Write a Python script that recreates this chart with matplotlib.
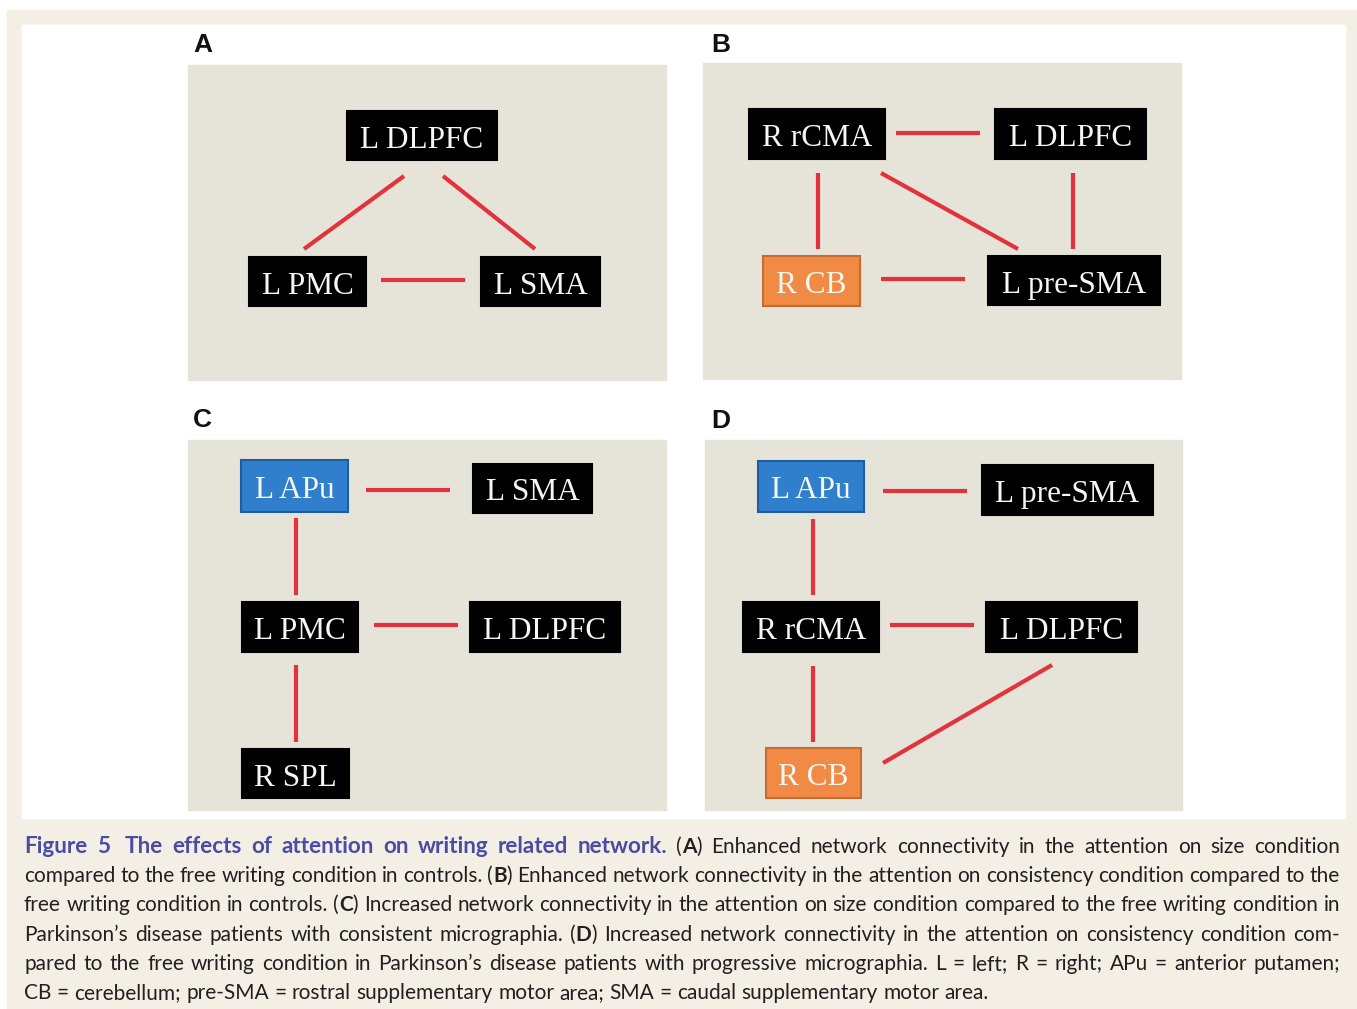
import matplotlib
matplotlib.use("Agg")
from matplotlib import pyplot as plt
from matplotlib.patches import Rectangle

# network data per panel: node labels, node kind, edges (pairs of node labels)
panel_names = ["A", "B", "C", "D"]

nodes_a = ["L DLPFC", "L PMC", "L SMA"]
kinds_a = ["cortex", "cortex", "cortex"]
edges_a = [("L DLPFC", "L PMC"), ("L DLPFC", "L SMA"), ("L PMC", "L SMA")]

nodes_b = ["R rCMA", "L DLPFC", "R CB", "L pre-SMA"]
kinds_b = ["cortex", "cortex", "cerebellum", "cortex"]
edges_b = [("R rCMA", "L DLPFC"), ("R rCMA", "R CB"), ("L DLPFC", "L pre-SMA"),
           ("R rCMA", "L pre-SMA"), ("R CB", "L pre-SMA")]

nodes_c = ["L APu", "L SMA", "L PMC", "L DLPFC", "R SPL"]
kinds_c = ["putamen", "cortex", "cortex", "cortex", "cortex"]
edges_c = [("L APu", "L SMA"), ("L APu", "L PMC"), ("L PMC", "L DLPFC"), ("L PMC", "R SPL")]

nodes_d = ["L APu", "L pre-SMA", "R rCMA", "L DLPFC", "R CB"]
kinds_d = ["putamen", "cortex", "cortex", "cortex", "cerebellum"]
edges_d = [("L APu", "L pre-SMA"), ("L APu", "R rCMA"), ("R rCMA", "L DLPFC"),
           ("R rCMA", "R CB"), ("L DLPFC", "R CB")]

caption_lines = [
    [("Figure 5  The effects of attention on writing related network.", "title"),
     (" (", "n"), ("A", "b"), (") Enhanced network connectivity in the attention on size condition", "n")],
    [("compared to the free writing condition in controls. (", "n"), ("B", "b"),
     (") Enhanced network connectivity in the attention on consistency condition compared to the", "n")],
    [("free writing condition in controls. (", "n"), ("C", "b"),
     (") Increased network connectivity in the attention on size condition compared to the free writing condition in", "n")],
    [("Parkinson\u2019s disease patients with consistent micrographia. (", "n"), ("D", "b"),
     (") Increased network connectivity in the attention on consistency condition com-", "n")],
    [("pared to the free writing condition in Parkinson\u2019s disease patients with progressive micrographia. L = left; R = right; APu = anterior putamen;", "n")],
    [("CB = cerebellum; pre-SMA = rostral supplementary motor area; SMA = caudal supplementary motor area.", "n")],
]

# ---- layout (pixel coordinates of the figure) ----
panel_rects = {"A": (188, 65, 666, 380), "B": (703, 63, 1181, 379),
               "C": (188, 440, 666, 810), "D": (705, 440, 1182, 810)}
label_pos = {"A": (193, 52), "B": (711, 52), "C": (193, 427), "D": (711, 428)}

boxes = {
    "A": {"L DLPFC": (347, 111, 497, 160), "L PMC": (249, 257, 366, 306), "L SMA": (481, 257, 600, 306)},
    "B": {"R rCMA": (749, 109, 885, 159), "L DLPFC": (995, 109, 1146, 159),
          "R CB": (763, 256, 860, 306), "L pre-SMA": (988, 256, 1160, 305)},
    "C": {"L APu": (241, 460, 348, 512), "L SMA": (473, 464, 592, 513), "L PMC": (242, 602, 358, 652),
          "L DLPFC": (470, 602, 620, 652), "R SPL": (242, 749, 349, 798)},
    "D": {"L APu": (758, 461, 864, 512), "L pre-SMA": (982, 465, 1153, 515), "R rCMA": (743, 602, 879, 652),
          "L DLPFC": (986, 602, 1137, 652), "R CB": (766, 748, 861, 798)},
}
edge_ends = {
    "A": [((404, 176), (304, 249)), ((443, 176), (535, 249)), ((381, 280), (465, 280))],
    "B": [((896, 133), (980, 133)), ((818, 173), (818, 249)), ((1073, 173), (1073, 249)),
          ((881, 173), (1018, 249)), ((881, 279), (965, 279))],
    "C": [((366, 490), (450, 490)), ((296, 518), (296, 595)), ((374, 625), (458, 625)),
          ((296, 665), (296, 742))],
    "D": [((883, 491), (967, 491)), ((813, 519), (813, 595)), ((890, 625), (974, 625)),
          ((813, 666), (813, 742)), ((883, 763), (1052, 665))],
}

kind_style = {"cortex": ("black", "black"),
              "cerebellum": ("#f08a45", "#c96a2e"),
              "putamen": ("#2f7fcc", "#1f5e9e")}

W, H = 1357, 1009
fig = plt.figure(figsize=(W / 100, H / 100), dpi=100)
ax = fig.add_axes([0, 0, 1, 1])
ax.set_xlim(0, W)
ax.set_ylim(H, 0)
ax.axis("off")

# backgrounds
ax.add_patch(Rectangle((7, 10), W - 7, H - 10, color="#f3efe4", zorder=0))
ax.add_patch(Rectangle((22, 25), 1345 - 22, 818 - 25, color="white", zorder=1))

panels = {"A": (nodes_a, kinds_a, edges_a), "B": (nodes_b, kinds_b, edges_b),
          "C": (nodes_c, kinds_c, edges_c), "D": (nodes_d, kinds_d, edges_d)}

for p in panel_names:
    nodes, kinds, edges = panels[p]
    x0, y0, x1, y1 = panel_rects[p]
    ax.add_patch(Rectangle((x0, y0), x1 - x0, y1 - y0, color="#e6e3d9", zorder=2))
    ax.text(label_pos[p][0], label_pos[p][1], p, family="Liberation Sans", weight="bold",
            fontsize=19, color="#111111", va="baseline", ha="left", zorder=5)
    for (e, (pa, pb)) in zip(edges, edge_ends[p]):
        ax.plot([pa[0], pb[0]], [pa[1], pb[1]], color="#e2333d", lw=3, zorder=3,
                solid_capstyle="butt")
    for name, kind in zip(nodes, kinds):
        bx0, by0, bx1, by1 = boxes[p][name]
        fc, ec = kind_style[kind]
        ax.add_patch(Rectangle((bx0, by0), bx1 - bx0, by1 - by0, facecolor=fc,
                               edgecolor=ec, lw=1.5, zorder=4))
        ax.text((bx0 + bx1) / 2, (by0 + by1) / 2 + 12, name, family="Liberation Serif",
                fontsize=22.5, color="#f7f7f2", ha="center", va="baseline", zorder=5)

# caption, justified word by word
styles = {"title": dict(color="#4a4ca6", weight="bold", fontsize=16.2),
          "n": dict(color="#231f20", weight="normal", fontsize=15),
          "b": dict(color="#231f20", weight="bold", fontsize=15)}
cap_font = "Lato"
left, right = 24, 1340
baselines = [853, 882, 911, 941, 970, 999]

fig.canvas.draw()
renderer = fig.canvas.get_renderer()


def run_width(s, style):
    t = ax.text(0, 0, s, family=cap_font, **styles[style])
    w = t.get_window_extent(renderer).width
    t.remove()
    return w


space_w = run_width("a a", "n") - run_width("aa", "n")

for li, line in enumerate(caption_lines):
    # split into words; each word = list of (text, style) runs, plus extra gap before it
    words = [[]]
    extra = [0.0]
    for text, style in line:
        parts = text.split(" ")
        for k, part in enumerate(parts):
            if k > 0:
                if words[-1]:
                    words.append([])
                    extra.append(0.0)
                elif len(words) > 1:
                    extra[-1] += space_w
            if part:
                words[-1].append((part, style))
    widths = [[run_width(s, st) for s, st in w] for w in words]
    total = sum(sum(ws) for ws in widths) + sum(extra)
    last = li == len(caption_lines) - 1
    gap = space_w if last else (right - left - total) / (len(words) - 1)
    x = left
    for w, ws, ex in zip(words, widths, extra):
        x += ex
        for (s, st), rw in zip(w, ws):
            ax.text(x, baselines[li], s, family=cap_font, va="baseline", ha="left",
                    zorder=5, **styles[st])
            x += rw
        x += gap

fig.savefig("out.png", dpi=100, facecolor="white")
